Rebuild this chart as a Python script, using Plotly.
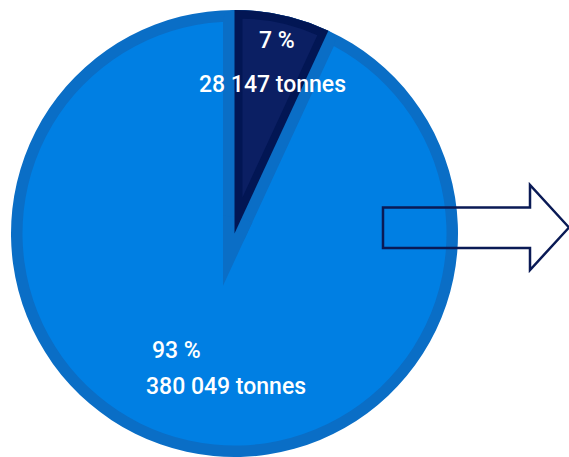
import math
import plotly.graph_objects as go

# ---- data ----
categories = ["Part 1", "Part 2"]
tonnes = [28147, 380049]

# ---- style ----
W, H = 569, 457
CX, CY, R = 234.5, 233.5, 223.5
BAND_BLUE = 11.5
BAND_NAVY = 8.0
T = "rgba(0,0,0,0)"
NAVY_FILL, NAVY_EDGE = "#0b1f63", "#021654"
BLUE_FILL, BLUE_EDGE = "#007fe3", "#0a6ec6"
ARROW = "#0a1a55"
FONT = "Roboto, Liberation Sans, Arial, sans-serif"

total = sum(tonnes)
half = math.pi * tonnes[0] / total
ux, uy = math.sin(half), -math.cos(half)


def dom(cx, cy, r):
    x0, x1 = (cx - r) / W, (cx + r) / W
    y0, y1 = 1 - (cy + r) / H, 1 - (cy - r) / H
    c = lambda v: min(1.0, max(0.0, v))
    return dict(x=[c(x0), c(x1)], y=[c(y0), c(y1)])


def pie(cx, cy, r, colors, widths=0, lcolors=T):
    return go.Pie(
        labels=categories, values=tonnes, sort=False, direction="clockwise",
        rotation=0, domain=dom(cx, cy, r), textinfo="none", hoverinfo="skip",
        showlegend=False,
        marker=dict(colors=colors, line=dict(width=widths, color=lcolors)),
    )


fig = go.Figure()
fig.add_trace(pie(CX, CY, R, [NAVY_EDGE, BLUE_EDGE]))
fig.add_trace(pie(CX, CY, R - BAND_BLUE, [T, BLUE_FILL]))
fig.add_trace(pie(CX, CY, R - BAND_BLUE, [T, T], [2 * BAND_BLUE, 0], [BLUE_EDGE, T]))
dv = BAND_BLUE / math.sin(half)
fig.add_trace(pie(CX - dv * ux, CY - dv * uy, 70, [BLUE_EDGE, T]))
fig.add_trace(pie(CX, CY, R, [NAVY_EDGE, T]))
dn = BAND_NAVY / math.sin(half)
fig.add_trace(pie(CX + dn * ux, CY + dn * uy, R - BAND_NAVY - dn, [NAVY_FILL, T]))

# labels
pcts = [round(v / total * 100) for v in tonnes]
ton_txt = [f"{v:,}".replace(",", " ") + " tonnes" for v in tonnes]
label_pos = [((276.5, 41), (272, 84.5)), ((176, 350), (225.5, 386))]
for i in range(2):
    (px1, py1), (px2, py2) = label_pos[i]
    for txt, (px, py) in ((f"{pcts[i]} %", (px1, py1)), (ton_txt[i], (px2, py2))):
        fig.add_annotation(x=px / W, y=1 - py / H, xref="paper", yref="paper",
                           text=txt, showarrow=False, xanchor="center",
                           yanchor="middle",
                           font=dict(family=FONT, size=23, color="white",
                                     weight=500))

# outline arrow
pts = [(383, 207.5), (530, 207.5), (530, 185), (569, 227.5), (530, 270),
       (530, 248), (383, 248)]
path = "M " + " L ".join(f"{x / W:.5f},{1 - y / H:.5f}" for x, y in pts) + " Z"
fig.add_shape(type="path", path=path, xref="paper", yref="paper",
              line=dict(color=ARROW, width=2.5), fillcolor=T, layer="above")

fig.update_layout(width=W, height=H, margin=dict(l=0, r=0, t=0, b=0),
                  paper_bgcolor="white", plot_bgcolor="white")
fig.write_html("out.html", config={"displayModeBar": False},
               post_script="document.body.style.margin='0';"
                           "document.body.style.overflow='hidden';")
